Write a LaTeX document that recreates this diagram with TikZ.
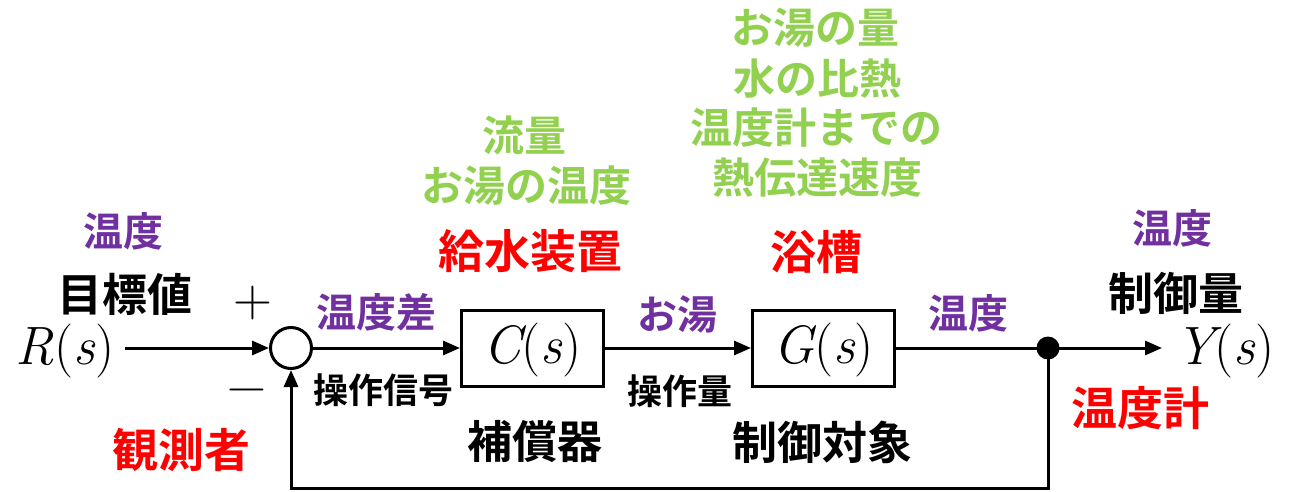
\documentclass[tikz,border=0pt]{standalone}
\usepackage{fontspec}
\usetikzlibrary{arrows.meta}
\newfontfamily\jp{Noto Sans CJK JP}[BoldFont={Noto Sans CJK JP Bold}]
\newfontfamily\signfont{DejaVu Sans}[Scale=1]
\definecolor{lblpurple}{RGB}{112,48,160}
\definecolor{lblgreen}{RGB}{146,208,80}
\definecolor{lblred}{RGB}{255,0,0}
\tikzset{
  blk/.style={draw, line width=3pt, minimum width=142pt, minimum height=76pt, inner sep=0pt},
  sumc/.style={draw, circle, line width=3pt, minimum size=41pt, inner sep=0pt},
  dotc/.style={fill, circle, minimum size=23pt, inner sep=0pt},
  wire/.style={line width=3pt},
  sig/.style={wire, -{Triangle[length=17pt,width=14pt]}},
  mathlbl/.style={inner sep=0pt, font=\fontsize{54}{60}\selectfont},
  purp/.style={inner sep=0pt, text=lblpurple, font=\jp\bfseries\fontsize{40}{44}\selectfont},
  grn/.style={inner sep=0pt, text=lblgreen, font=\jp\bfseries\fontsize{42}{46}\selectfont},
  redl/.style={inner sep=0pt, text=lblred, font=\jp\bfseries\fontsize{46}{50}\selectfont},
  bigl/.style={inner sep=0pt, font=\jp\bfseries\fontsize{45}{50}\selectfont},
  smalll/.style={inner sep=0pt, font=\jp\bfseries\fontsize{35}{40}\selectfont},
  pm/.style={inner sep=0pt, font=\fontsize{54}{60}\selectfont},
}
\begin{document}
\begin{tikzpicture}[x=1pt,y=-1pt]
\useasboundingbox (0,0) rectangle (1297,492);
% main blocks
\node[mathlbl] (R) at (65,351) {\itshape R\upshape(\itshape s\upshape)};
\node[sumc] (sum) at (291,348) {};
\node[blk] (C) at (532.5,348) {};
\node[mathlbl] at (532.5,350) {\itshape C\upshape(\itshape s\upshape)};
\node[blk] (G) at (823.5,348) {};
\node[mathlbl] at (823.5,350) {\itshape G\upshape(\itshape s\upshape)};
\node[dotc] (dot) at (1048,348) {};
\node[mathlbl] (Y) at (1225,351) {\itshape Y\upshape(\itshape s\upshape)};
\coordinate (yend) at (1162,348);
\coordinate (fbr) at (1048,488);
\coordinate (fbl) at (291,488);
\coordinate (rstart) at (125,348);
% connectors
\draw[sig] (rstart) -- (sum.west);
\draw[sig] (sum.east) -- (C.west);
\draw[sig] (C.east) -- (G.west);
\draw[wire] (G.east) -- (dot.center);
\draw[sig] (dot.center) -- (yend);
\draw[sig] (dot.center) -- (fbr) -- (fbl) -- (sum.south);
% signs
\node[pm] at (253,303) {+};
\node[pm] at (247,396) {−};
% labels
\node[purp] at (123,231) {温度};
\node[bigl] at (125,294) {目標値};
\node[purp] at (376,312) {温度差};
\node[smalll] at (383,390) {操作信号};
\node[redl] at (181,450) {観測者};
\node[purp] at (677,314) {お湯};
\node[smalll] at (680,391) {操作量};
\node[bigl] at (535,442) {補償器};
\node[bigl] at (822,442) {制御対象};
\node[purp] at (968,313) {温度};
\node[purp] at (1172,228) {温度};
\node[bigl] at (1176,293) {制御量};
\node[redl] at (1140,408) {温度計};
\node[redl] at (530,251) {給水装置};
\node[redl] at (816,252) {浴槽};
\node[grn] at (524,135) {流量};
\node[grn] at (526,186) {お湯の温度};
\node[grn] at (815,28) {お湯の量};
\node[grn] at (817,79) {水の比熱};
\node[grn] at (816,128) {温度計までの};
\node[grn] at (817,178) {熱伝達速度};
\end{tikzpicture}
\end{document}
